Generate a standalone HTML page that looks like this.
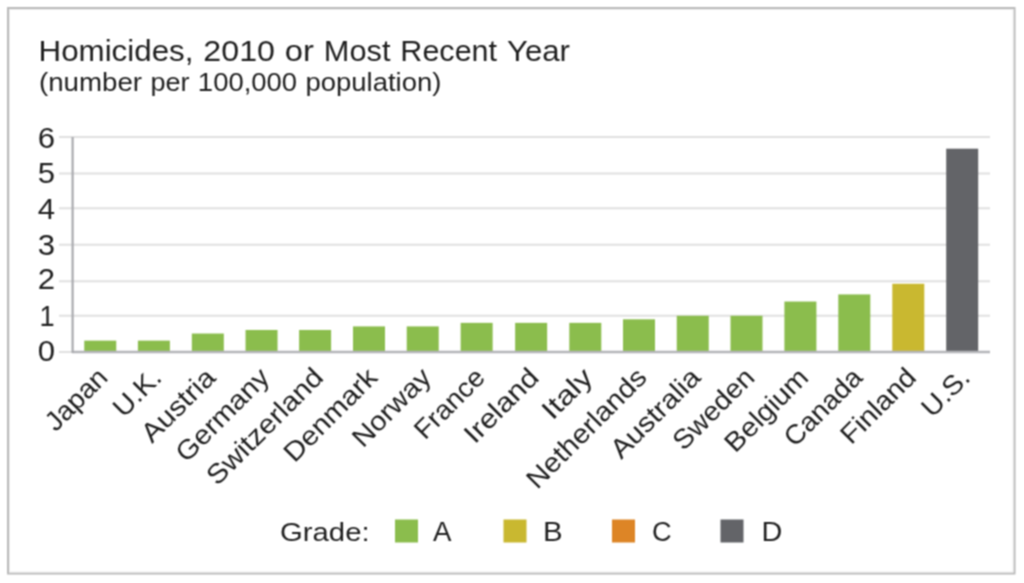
<!DOCTYPE html><html><head><meta charset="utf-8"><style>html,body{margin:0;padding:0;background:#fff;overflow:hidden;}#c{position:relative;width:1024px;height:583px;}svg{position:absolute;left:0;top:0;display:block;will-change:transform;font-family:"Liberation Sans",sans-serif;}#shp{filter:url(#soft);} #txt{filter:url(#soft2);}</style></head><body><div id="c"><svg id="shp" width="1024" height="583" viewBox="0 0 1024 583"><defs><filter id="soft" x="0" y="0" width="1" height="1" color-interpolation-filters="sRGB"><feConvolveMatrix order="3" kernelMatrix="1 2 1 2 4 2 1 2 1" divisor="16" edgeMode="duplicate" preserveAlpha="true"/></filter></defs><rect x="0" y="0" width="1024" height="583" fill="#fff"/><rect x="8" y="8" width="1006.5" height="565.5" fill="none" stroke="#bababa" stroke-width="2"/><rect x="9.5" y="9.5" width="1003.5" height="562.5" fill="none" stroke="#eeeeee" stroke-width="1"/>
<line x1="59" y1="352.00" x2="72" y2="352.00" stroke="#e0e0e0" stroke-width="2"/>
<line x1="59" y1="315.80" x2="990" y2="315.80" stroke="#e0e0e0" stroke-width="2"/>
<line x1="59" y1="281.30" x2="990" y2="281.30" stroke="#e0e0e0" stroke-width="2"/>
<line x1="59" y1="244.80" x2="990" y2="244.80" stroke="#e0e0e0" stroke-width="2"/>
<line x1="59" y1="208.20" x2="990" y2="208.20" stroke="#e0e0e0" stroke-width="2"/>
<line x1="59" y1="173.60" x2="990" y2="173.60" stroke="#e0e0e0" stroke-width="2"/>
<line x1="59" y1="137.00" x2="990" y2="137.00" stroke="#e0e0e0" stroke-width="2"/>
<rect x="84.25" y="340.63" width="32" height="10.87" fill="#8bbd4d"/>
<rect x="137.90" y="340.63" width="32" height="10.87" fill="#8bbd4d"/>
<rect x="191.83" y="333.52" width="32" height="17.98" fill="#8bbd4d"/>
<rect x="245.54" y="329.96" width="32" height="21.54" fill="#8bbd4d"/>
<rect x="299.10" y="329.96" width="32" height="21.54" fill="#8bbd4d"/>
<rect x="353.00" y="326.41" width="32" height="25.09" fill="#8bbd4d"/>
<rect x="406.73" y="326.41" width="32" height="25.09" fill="#8bbd4d"/>
<rect x="460.65" y="322.86" width="32" height="28.64" fill="#8bbd4d"/>
<rect x="515.15" y="322.86" width="32" height="28.64" fill="#8bbd4d"/>
<rect x="569.30" y="322.86" width="32" height="28.64" fill="#8bbd4d"/>
<rect x="623.00" y="319.30" width="32" height="32.20" fill="#8bbd4d"/>
<rect x="676.75" y="315.75" width="32" height="35.75" fill="#8bbd4d"/>
<rect x="730.50" y="315.75" width="32" height="35.75" fill="#8bbd4d"/>
<rect x="784.40" y="301.53" width="32" height="49.97" fill="#8bbd4d"/>
<rect x="838.30" y="294.42" width="32" height="57.08" fill="#8bbd4d"/>
<rect x="892.30" y="283.76" width="32" height="67.74" fill="#c9b830"/>
<rect x="946.20" y="148.69" width="32" height="202.81" fill="#636468"/>
<line x1="72" y1="352.00" x2="990" y2="352.00" stroke="#b4b5b9" stroke-width="2.4"/>
<line x1="72.6" y1="137" x2="72.6" y2="353" stroke="#a9aaae" stroke-width="2.2"/>
<rect x="395.00" y="519.5" width="23" height="23" fill="#8bbd4d"/>
<rect x="503.50" y="519.5" width="23" height="23" fill="#c9b830"/>
<rect x="612.00" y="519.5" width="23" height="23" fill="#dd8526"/>
<rect x="720.50" y="519.5" width="23" height="23" fill="#636468"/></svg><svg id="txt" width="1024" height="583" viewBox="0 0 1024 583"><defs><filter id="soft2" x="0" y="0" width="1" height="1" color-interpolation-filters="sRGB"><feConvolveMatrix order="3" kernelMatrix="1 2 1 2 4 2 1 2 1" divisor="16" edgeMode="duplicate" preserveAlpha="false"/></filter></defs><text id="title_0" x="38.50" y="60.50" font-size="29.5" fill="#1e1e1e" textLength="154.96" lengthAdjust="spacingAndGlyphs">Homicides,</text>
<text id="title_1" x="203.36" y="60.50" font-size="29.5" fill="#1e1e1e" textLength="71.61" lengthAdjust="spacingAndGlyphs">2010</text>
<text id="title_2" x="284.87" y="60.50" font-size="29.5" fill="#1e1e1e" textLength="29.11" lengthAdjust="spacingAndGlyphs">or</text>
<text id="title_3" x="323.88" y="60.50" font-size="29.5" fill="#1e1e1e" textLength="66.59" lengthAdjust="spacingAndGlyphs">Most</text>
<text id="title_4" x="400.37" y="60.50" font-size="29.5" fill="#1e1e1e" textLength="96.72" lengthAdjust="spacingAndGlyphs">Recent</text>
<text id="title_5" x="506.98" y="60.50" font-size="29.5" fill="#1e1e1e" textLength="63.04" lengthAdjust="spacingAndGlyphs">Year</text>
<text id="sub_0" x="39.00" y="90.50" font-size="25" fill="#1e1e1e" textLength="103.07" lengthAdjust="spacingAndGlyphs">(number</text>
<text id="sub_1" x="150.42" y="90.50" font-size="25" fill="#1e1e1e" textLength="39.10" lengthAdjust="spacingAndGlyphs">per</text>
<text id="sub_2" x="197.87" y="90.50" font-size="25" fill="#1e1e1e" textLength="99.24" lengthAdjust="spacingAndGlyphs">100,000</text>
<text id="sub_3" x="305.46" y="90.50" font-size="25" fill="#1e1e1e" textLength="135.99" lengthAdjust="spacingAndGlyphs">population)</text>
<text id="y0" x="55.00" y="361.40" font-size="29" fill="#1e1e1e" textLength="17.33" lengthAdjust="spacingAndGlyphs" text-anchor="end">0</text>
<text id="y1" x="54.60" y="326.10" font-size="29" fill="#1e1e1e" textLength="15.12" lengthAdjust="spacingAndGlyphs" text-anchor="end">1</text>
<text id="y2" x="55.00" y="289.30" font-size="29" fill="#1e1e1e" textLength="17.33" lengthAdjust="spacingAndGlyphs" text-anchor="end">2</text>
<text id="y3" x="55.00" y="254.50" font-size="29" fill="#1e1e1e" textLength="17.33" lengthAdjust="spacingAndGlyphs" text-anchor="end">3</text>
<text id="y4" x="55.00" y="218.80" font-size="29" fill="#1e1e1e" textLength="17.33" lengthAdjust="spacingAndGlyphs" text-anchor="end">4</text>
<text id="y5" x="55.00" y="183.00" font-size="29" fill="#1e1e1e" textLength="17.33" lengthAdjust="spacingAndGlyphs" text-anchor="end">5</text>
<text id="y6" x="55.00" y="147.60" font-size="29" fill="#1e1e1e" textLength="17.33" lengthAdjust="spacingAndGlyphs" text-anchor="end">6</text>
<text id="lab0" x="109.30" y="379.00" font-size="27" fill="#1e1e1e" textLength="75.70" lengthAdjust="spacingAndGlyphs" text-anchor="end" transform="rotate(-45 109.30 379.00)">Japan</text>
<text id="lab1" x="163.20" y="379.00" font-size="27" fill="#1e1e1e" textLength="55.88" lengthAdjust="spacingAndGlyphs" text-anchor="end" transform="rotate(-45 163.20 379.00)">U.K.</text>
<text id="lab2" x="217.10" y="379.00" font-size="27" fill="#1e1e1e" textLength="91.89" lengthAdjust="spacingAndGlyphs" text-anchor="end" transform="rotate(-45 217.10 379.00)">Austria</text>
<text id="lab3" x="271.00" y="379.00" font-size="27" fill="#1e1e1e" textLength="119.51" lengthAdjust="spacingAndGlyphs" text-anchor="end" transform="rotate(-45 271.00 379.00)">Germany</text>
<text id="lab4" x="324.90" y="379.00" font-size="27" fill="#1e1e1e" textLength="152.09" lengthAdjust="spacingAndGlyphs" text-anchor="end" transform="rotate(-45 324.90 379.00)">Switzerland</text>
<text id="lab5" x="378.80" y="379.00" font-size="27" fill="#1e1e1e" textLength="119.39" lengthAdjust="spacingAndGlyphs" text-anchor="end" transform="rotate(-45 378.80 379.00)">Denmark</text>
<text id="lab6" x="432.70" y="379.00" font-size="27" fill="#1e1e1e" textLength="98.60" lengthAdjust="spacingAndGlyphs" text-anchor="end" transform="rotate(-45 432.70 379.00)">Norway</text>
<text id="lab7" x="486.60" y="379.00" font-size="27" fill="#1e1e1e" textLength="87.17" lengthAdjust="spacingAndGlyphs" text-anchor="end" transform="rotate(-45 486.60 379.00)">France</text>
<text id="lab8" x="540.50" y="379.00" font-size="27" fill="#1e1e1e" textLength="92.94" lengthAdjust="spacingAndGlyphs" text-anchor="end" transform="rotate(-45 540.50 379.00)">Ireland</text>
<text id="lab9" x="594.40" y="379.00" font-size="27" fill="#1e1e1e" textLength="59.34" lengthAdjust="spacingAndGlyphs" text-anchor="end" transform="rotate(-45 594.40 379.00)">Italy</text>
<text id="lab10" x="648.30" y="379.00" font-size="27" fill="#1e1e1e" textLength="157.18" lengthAdjust="spacingAndGlyphs" text-anchor="end" transform="rotate(-45 648.30 379.00)">Netherlands</text>
<text id="lab11" x="702.20" y="379.00" font-size="27" fill="#1e1e1e" textLength="114.65" lengthAdjust="spacingAndGlyphs" text-anchor="end" transform="rotate(-45 702.20 379.00)">Australia</text>
<text id="lab12" x="756.10" y="379.00" font-size="27" fill="#1e1e1e" textLength="102.69" lengthAdjust="spacingAndGlyphs" text-anchor="end" transform="rotate(-45 756.10 379.00)">Sweden</text>
<text id="lab13" x="810.00" y="379.00" font-size="27" fill="#1e1e1e" textLength="105.54" lengthAdjust="spacingAndGlyphs" text-anchor="end" transform="rotate(-45 810.00 379.00)">Belgium</text>
<text id="lab14" x="863.90" y="379.00" font-size="27" fill="#1e1e1e" textLength="97.69" lengthAdjust="spacingAndGlyphs" text-anchor="end" transform="rotate(-45 863.90 379.00)">Canada</text>
<text id="lab15" x="917.80" y="379.00" font-size="27" fill="#1e1e1e" textLength="93.96" lengthAdjust="spacingAndGlyphs" text-anchor="end" transform="rotate(-45 917.80 379.00)">Finland</text>
<text id="lab16" x="971.70" y="379.00" font-size="27" fill="#1e1e1e" textLength="55.67" lengthAdjust="spacingAndGlyphs" text-anchor="end" transform="rotate(-45 971.70 379.00)">U.S.</text>
<text id="grade" x="280.00" y="540.50" font-size="26" fill="#1e1e1e" textLength="89.62" lengthAdjust="spacingAndGlyphs">Grade:</text>
<text id="legA" x="433.00" y="540.50" font-size="27" fill="#1e1e1e" textLength="18.47" lengthAdjust="spacingAndGlyphs">A</text>
<text id="legB" x="542.90" y="540.50" font-size="27" fill="#1e1e1e" textLength="19.63" lengthAdjust="spacingAndGlyphs">B</text>
<text id="legC" x="652.00" y="540.50" font-size="27" fill="#1e1e1e" textLength="19.61" lengthAdjust="spacingAndGlyphs">C</text>
<text id="legD" x="761.50" y="540.50" font-size="27" fill="#1e1e1e" textLength="20.82" lengthAdjust="spacingAndGlyphs">D</text></svg></div></body></html>
